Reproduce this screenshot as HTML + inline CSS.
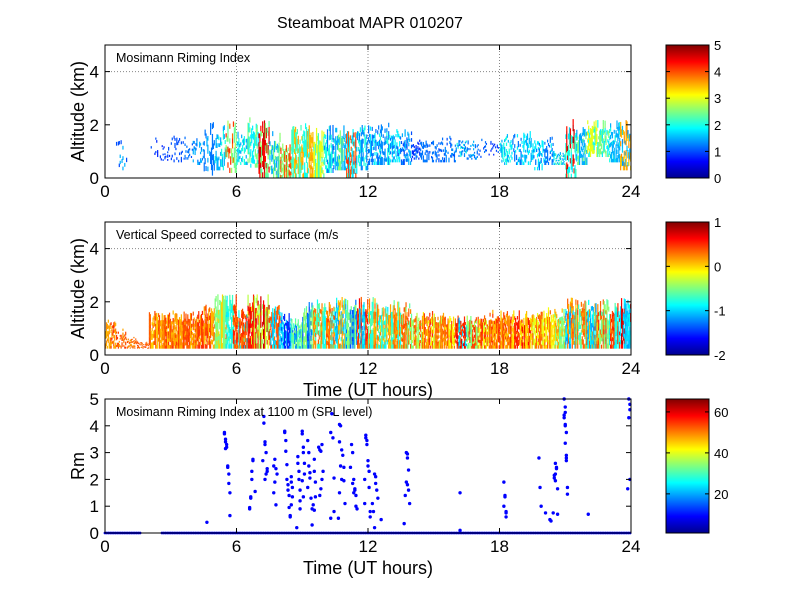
<!DOCTYPE html>
<html><head><meta charset="utf-8"><style>
body{margin:0;background:#fff;}
svg text{font-family:"Liberation Sans",Arial,sans-serif;fill:#000;}
</style></head><body>
<svg id="fig" width="800" height="600" xmlns="http://www.w3.org/2000/svg">
<defs>
<linearGradient id="jet" x1="0" y1="1" x2="0" y2="0">
<stop offset="0" stop-color="#00008f"/><stop offset="0.125" stop-color="#0000ff"/>
<stop offset="0.375" stop-color="#00ffff"/><stop offset="0.625" stop-color="#ffff00"/>
<stop offset="0.875" stop-color="#ff0000"/><stop offset="1" stop-color="#800000"/>
</linearGradient>
</defs>
<text x="370" y="28" font-size="16" text-anchor="middle">Steamboat MAPR 010207</text>
<g id="p1"></g>
<g id="p2"></g>
<g id="p3"></g>
</svg>
<script>
// ---------- data ----------
const hourStarts = Array.from({length:48},(_, i)=>i*0.5);
const riBase = [0,0.3,0,0,0.8,0.6,0.6,0.7,0.5,0.1,0.3,0.2,0.5,0.4,0,0,0,0,0,0,0.2,0.3,0,0.3,0.5,0.5,0.6,0.5,0.7,0.6,0.6,0.6,0.8,0.7,0.7,0.8,0.5,0.5,0.5,0.3,0.5,0.5,0,0.5,0.8,0.8,0.6,0.3];
const riTop  = [0,1.9,0,0,1.7,1.3,1.6,1.6,1.6,2.3,2.0,2.3,1.8,2.3,2.3,1.8,1.3,2.0,2.2,2.0,2.0,2.0,2.1,2.0,2.0,2.1,1.9,1.9,1.6,1.6,1.6,1.6,1.5,1.5,1.5,1.5,1.8,1.8,1.8,1.6,1.6,1.0,2.3,2.0,2.2,2.2,2.2,2.2];
const riDens = [0,0.08,0,0,0.08,0.12,0.15,0.2,0.25,0.35,0.45,0.45,0.45,0.55,0.65,0.55,0.75,0.75,0.75,0.75,0.55,0.65,0.65,0.55,0.55,0.55,0.5,0.45,0.35,0.3,0.25,0.25,0.35,0.3,0.18,0.12,0.35,0.4,0.4,0.4,0.35,0.35,0.55,0.55,0.6,0.6,0.55,0.55];
const riValA = [0,1.5,0,0,1,1,1,1.2,1.5,1.5,2,2.5,2,2.5,4.5,2.5,4,3.5,3.5,3,2,2.5,4,2,1.8,2,1.8,1.5,1.2,1.2,1.2,1.3,2,1.5,1.2,1,2,1.8,1.8,1.8,1.8,2.2,4.5,2.5,3,2.5,2,3.5];
const riValB = [0,1,0,0,0.8,0.8,1,1,1.2,1.2,1.5,4,1.5,1.8,2.5,1.5,2.5,2.2,2,2.2,1.2,1.5,1.8,1.3,1.2,1.3,1.2,1,0.8,1,1,1,1.3,1.2,1,0.8,1.5,1.2,1.5,1.2,1.2,1.5,2,1.5,2,1.8,1.5,1.5];
const vsBase = Array(48).fill(0.25);
const vsTop  = [1.4,1.0,0.7,0.5,1.7,1.7,1.7,1.7,1.7,2.0,2.3,2.3,1.8,2.3,2.3,1.9,1.6,1.4,2.0,2.1,2.0,2.2,2.1,2.2,2.2,2.0,2.1,2.0,1.6,1.7,1.6,1.5,1.5,1.5,1.5,1.7,1.7,1.7,1.7,1.8,1.8,1.8,2.2,2.1,2.1,2.1,2.0,2.2];
const vsDens = [0.6,0.45,0.45,0.45,0.75,0.85,0.85,0.85,0.85,0.85,0.85,0.85,0.85,0.85,0.85,0.85,0.85,0.85,0.85,0.85,0.85,0.85,0.85,0.85,0.85,0.85,0.85,0.85,0.8,0.8,0.8,0.8,0.85,0.85,0.85,0.85,0.85,0.85,0.85,0.85,0.85,0.85,0.85,0.85,0.85,0.85,0.85,0.85];
const vsValA = [0.15,0.2,0.2,0.3,0.05,0.1,0.15,0.1,0.15,0.1,0.0,-0.8,-0.8,-0.3,-0.3,0.4,-1,-1.2,-1.3,-0.7,-0.8,-1,-1.3,-1,-0.7,-0.8,-0.7,-0.5,-0.4,-0.1,-0.3,-0.1,-1,-0.5,-0.2,0.1,0.1,0.0,0.05,-0.2,-0.1,-0.5,-1,-0.6,-1,-0.5,-0.8,0.7];
const vsValB = [0.45,0.4,0.35,0.4,0.35,0.4,0.45,0.4,0.45,0.4,-0.5,0.4,0.4,0.55,0.7,-1,-1.5,-0.6,-0.5,0.2,0.25,0.1,-0.5,0.45,0.2,0.1,0.2,0.3,0.3,0.4,0.25,0.35,0.55,0.4,0.4,0.45,0.4,0.5,0.6,0.3,0.25,0.1,0.2,0.3,0.2,0.4,0.4,-1];
// scatter: Rm at 1100 m
const scHours = [4.65,
5.45,5.45,5.5,5.5,5.55,5.55,5.5,5.6,5.6,5.65,5.65,5.7,5.7,
6.6,6.6,6.65,6.65,6.7,6.7,6.75,6.75,6.85,
7.25,7.25,7.3,7.3,7.2,7.35,7.4,7.4,7.35,7.3,
7.75,7.7,7.8,7.85,7.75,7.7,7.8,
8.2,8.2,8.25,8.25,8.3,8.3,8.35,8.35,8.4,8.4,8.45,8.45,8.5,8.5,8.55,8.55,8.5,
8.8,8.8,8.85,8.85,8.9,8.9,8.9,8.75,9.0,9.0,9.05,9.05,9.1,9.1,9.0,9.05,
9.25,9.3,9.3,9.35,9.35,9.25,9.4,9.45,9.45,9.55,9.55,9.6,9.6,9.5,9.55,
9.75,9.8,9.85,9.9,9.95,9.9,9.85,9.8,
10.35,10.3,10.4,10.45,10.3,10.45,
10.7,10.75,10.7,10.8,10.85,10.75,10.8,10.7,10.65,10.9,10.9,10.95,
11.25,11.3,11.2,11.35,11.3,11.4,11.45,11.45,11.5,11.4,11.35,
11.9,11.9,11.95,11.95,12.0,12.0,12.05,11.85,12.05,11.85,12.1,12.1,
12.3,12.35,12.35,12.4,12.45,12.2,12.25,12.6,12.3,
13.75,13.8,13.8,13.85,13.75,13.8,13.85,13.7,13.9,13.65,
16.2,16.2,
18.2,18.25,18.25,18.2,18.3,18.3,18.3,
19.8,19.85,19.9,20.1,20.35,20.3,
20.55,20.6,20.6,20.55,20.5,20.5,20.55,20.65,20.45,20.65,
20.95,21.0,21.0,20.95,20.95,21.0,21.0,21.05,21.0,21.05,21.05,21.05,21.1,21.1,
22.05,
23.9,23.95,23.95,23.9,23.95,23.85];
const scValues = [0.4,
3.75,3.7,3.5,3.4,3.3,3.2,3.15,2.5,2.45,2.2,1.85,1.5,0.65,
0.95,0.9,1.35,1.3,2.0,2.3,2.75,2.7,1.55,
4.35,4.1,3.4,3.3,2.7,3.0,2.4,2.3,2.2,2.0,
2.75,2.5,2.4,2.2,1.9,1.5,1.05,
3.8,3.75,3.45,3.05,2.55,2.0,1.8,1.6,1.4,0.95,0.65,0.6,2.1,1.9,1.7,1.35,1.05,
2.85,2.6,2.3,2.0,1.6,1.2,0.9,0.2,3.8,3.7,3.2,3.0,2.6,2.2,1.95,1.35,
3.45,3.0,2.5,2.25,2.05,1.7,1.3,0.9,0.3,2.75,2.3,1.9,1.35,1.05,0.85,
3.2,3.1,3.05,3.3,2.3,2.0,1.65,1.4,
4.45,3.75,3.55,2.05,0.55,0.8,
4.05,4.0,3.4,3.1,2.9,2.5,2.0,1.5,0.55,2.45,1.95,1.1,
3.3,3.0,2.45,2.0,1.85,1.6,1.4,1.0,0.9,1.65,1.5,
3.65,3.55,3.45,3.3,2.7,2.5,2.3,2.0,1.7,1.1,0.8,0.6,
2.2,2.1,1.85,1.6,1.3,1.1,0.8,0.5,0.2,
3.0,2.95,2.8,2.35,1.9,1.8,1.6,1.4,1.1,0.35,
1.5,0.1,
1.9,1.4,1.35,1.0,0.8,0.75,0.6,
2.8,1.7,1.0,0.75,0.45,0.5,
2.6,2.45,2.4,2.2,2.15,2.05,1.95,1.65,0.75,0.7,
5.0,4.7,4.5,4.4,4.3,4.05,4.0,3.75,3.35,2.9,2.8,2.7,1.7,1.45,
0.7,
5.0,4.8,4.6,4.3,2.0,1.65];
const zeroRanges = [[0,1.6],[2.6,24]];
const xTicks = [0,6,12,18,24];
const p1YTicks = [0,2,4], p3YTicks = [0,1,2,3,4,5];
const cb1Ticks=[0,1,2,3,4,5], cb2Ticks=[-2,-1,0,1], cb3Ticks=[20,40,60];

// ---------- helpers ----------
const NS='http://www.w3.org/2000/svg';
function mk(parent,tag,attrs){const e=document.createElementNS(NS,tag);for(const k in attrs)e.setAttribute(k,attrs[k]);parent.appendChild(e);return e;}
function jet(t){t=Math.max(0,Math.min(1,t));
 const r=Math.max(0,Math.min(1,Math.min(4*t-1.5,-4*t+4.5)));
 const g=Math.max(0,Math.min(1,Math.min(4*t-0.5,-4*t+3.5)));
 const b=Math.max(0,Math.min(1,Math.min(4*t+0.5,-4*t+2.5)));
 return `rgb(${Math.round(r*255)},${Math.round(g*255)},${Math.round(b*255)})`;}
// deterministic texture hash (pattern only, not data)
function hsh(a,b,c,d){let x=(a*374761393+b*668265263+c*2246822519+d*3266489917)>>>0;
 x=Math.imul(x^(x>>>13),1274126177)>>>0;x=(x^(x>>>16))>>>0;return (x%10000)/10000;}
const X0=105,X1=631;
const xS=h=>X0+(X1-X0)*h/24;

function gridLines(g,top,bot,yMax){
 const yS=v=>bot-(bot-top)*v/yMax;
 for(const t of [6,12,18]){const l=mk(g,'line',{x1:xS(t),x2:xS(t),y1:top,y2:bot,stroke:'#888','stroke-dasharray':'1,2','stroke-width':1});
  }
 const l=mk(g,'line',{x1:X0,x2:X1,y1:yS(4),y2:yS(4),stroke:'#888','stroke-dasharray':'1,2'});
 
 return yS;
}
function axesBox(g,top,bot,yMax,yTicks,xlabel,ylabel,inner){
 const yS=v=>bot-(bot-top)*v/yMax;
 const r=mk(g,'rect',{x:X0,y:top,width:X1-X0,height:bot-top,fill:'none',stroke:'#000','stroke-width':1});
 
 for(const t of xTicks){
  mk(g,'line',{x1:xS(t),x2:xS(t),y1:bot,y2:bot-5,stroke:'#000'});
  mk(g,'line',{x1:xS(t),x2:xS(t),y1:top,y2:top+5,stroke:'#000'});
  const tx=mk(g,'text',{x:xS(t),y:bot+19,'font-size':17,'text-anchor':'middle'});tx.textContent=t;
  
 }
 for(const t of yTicks){
  mk(g,'line',{x1:X0,x2:X0+5,y1:yS(t),y2:yS(t),stroke:'#000'});
  mk(g,'line',{x1:X1,x2:X1-5,y1:yS(t),y2:yS(t),stroke:'#000'});
  const tx=mk(g,'text',{x:X0-6,y:yS(t)+6,'font-size':17,'text-anchor':'end'});tx.textContent=t;
  
 }
 const yl=mk(g,'text',{x:0,y:0,'font-size':18,'text-anchor':'middle',transform:`translate(84,${(top+bot)/2}) rotate(-90)`});yl.textContent=ylabel;
 
 if(xlabel){const xl=mk(g,'text',{x:368,y:bot+41,'font-size':18,'text-anchor':'middle'});xl.textContent=xlabel;
  }
 const it=mk(g,'text',{x:116,y:top+17,'font-size':12.5});it.textContent=inner;
 
}
function colorbar(g,top,bot,vmin,vmax,ticks){
 const r=mk(g,'rect',{x:666,y:top,width:43,height:bot-top,fill:'url(#jet)',stroke:'#000'});
 
 for(const t of ticks){const y=bot-(bot-top)*(t-vmin)/(vmax-vmin);
  mk(g,'line',{x1:666,x2:670,y1:y,y2:y,stroke:'#000'});mk(g,'line',{x1:709,x2:705,y1:y,y2:y,stroke:'#000'});
  const tx=mk(g,'text',{x:714,y:y+5,'font-size':13});tx.textContent=t;
  }
}
function field(g,yS,base,topA,dens,vA,vB,vmin,vmax,seed){
 const NSTR=12, NSEG=10;
 hourStarts.forEach((h,i)=>{
  if(dens[i]<=0||topA[i]<=base[i])return;
  const x0=xS(h),w=(xS(h+0.5)-x0)/NSTR;
  for(let s=0;s<NSTR;s++){
   const hTop=base[i]+(topA[i]-base[i])*(1-hsh(i,s,0,seed)*0.3);
   const colV=hsh(i,s,1,seed);
   const segH=(hTop-base[i])/NSEG;
   for(let k=0;k<NSEG;k++){
    if(hsh(i,s,k+5,seed)>=dens[i])continue;
    const pick=(colV*0.75+hsh(i,s,k+40,seed)*0.25)<0.5;
    const jit=(hsh(i,s,k+80,seed)-0.5)*0.25*Math.abs(vB[i]-vA[i]+0.4);
    const v=(pick?vA[i]:vB[i])+jit;
    const y1=yS(base[i]+segH*(k+1)), y0=yS(base[i]+segH*k);
    const rr=mk(g,'rect',{x:x0+s*w,y:y1,width:w+0.3,height:y0-y1+0.3,fill:jet((v-vmin)/(vmax-vmin))});
    
    
   }
  }
 });
}
// panel 1
{const g=document.getElementById('p1');const top=45,bot=178;
 const yS=gridLines(g,top,bot,5);
 field(g,yS,riBase,riTop,riDens,riValA,riValB,0,5,1);
 axesBox(g,top,bot,5,p1YTicks,null,'Altitude (km)','Mosimann Riming Index');
 colorbar(g,top,bot,0,5,cb1Ticks);}
// panel 2
{const g=document.getElementById('p2');const top=222,bot=355;
 const yS=gridLines(g,top,bot,5);
 field(g,yS,vsBase,vsTop,vsDens,vsValA,vsValB,-2,1,2);
 axesBox(g,top,bot,5,p1YTicks,'Time (UT hours)','Altitude (km)','Vertical Speed corrected to surface (m/s');
 colorbar(g,top,bot,-2,1,cb2Ticks);}
// panel 3
{const g=document.getElementById('p3');const top=399,bot=533;
 const yS=v=>bot-(bot-top)*v/5;
 for(const [a,b] of zeroRanges){
  for(let h=a;h<=b+1e-9;h+=0.08){
   const c=mk(g,'circle',{cx:xS(h),cy:yS(0),r:1.4,fill:'#0000ff'});
   
   
  }}
 scHours.forEach((h,i)=>{
  const c=mk(g,'circle',{cx:xS(h),cy:yS(scValues[i]),r:1.7,fill:'#0000ff'});
  
  
 });
 axesBox(g,top,bot,5,p3YTicks,'Time (UT hours)','Rm','Mosimann Riming Index at 1100 m (SPL level)');
 colorbar(g,top,bot,0.9,66.3,cb3Ticks);}
</script>
</body></html>
